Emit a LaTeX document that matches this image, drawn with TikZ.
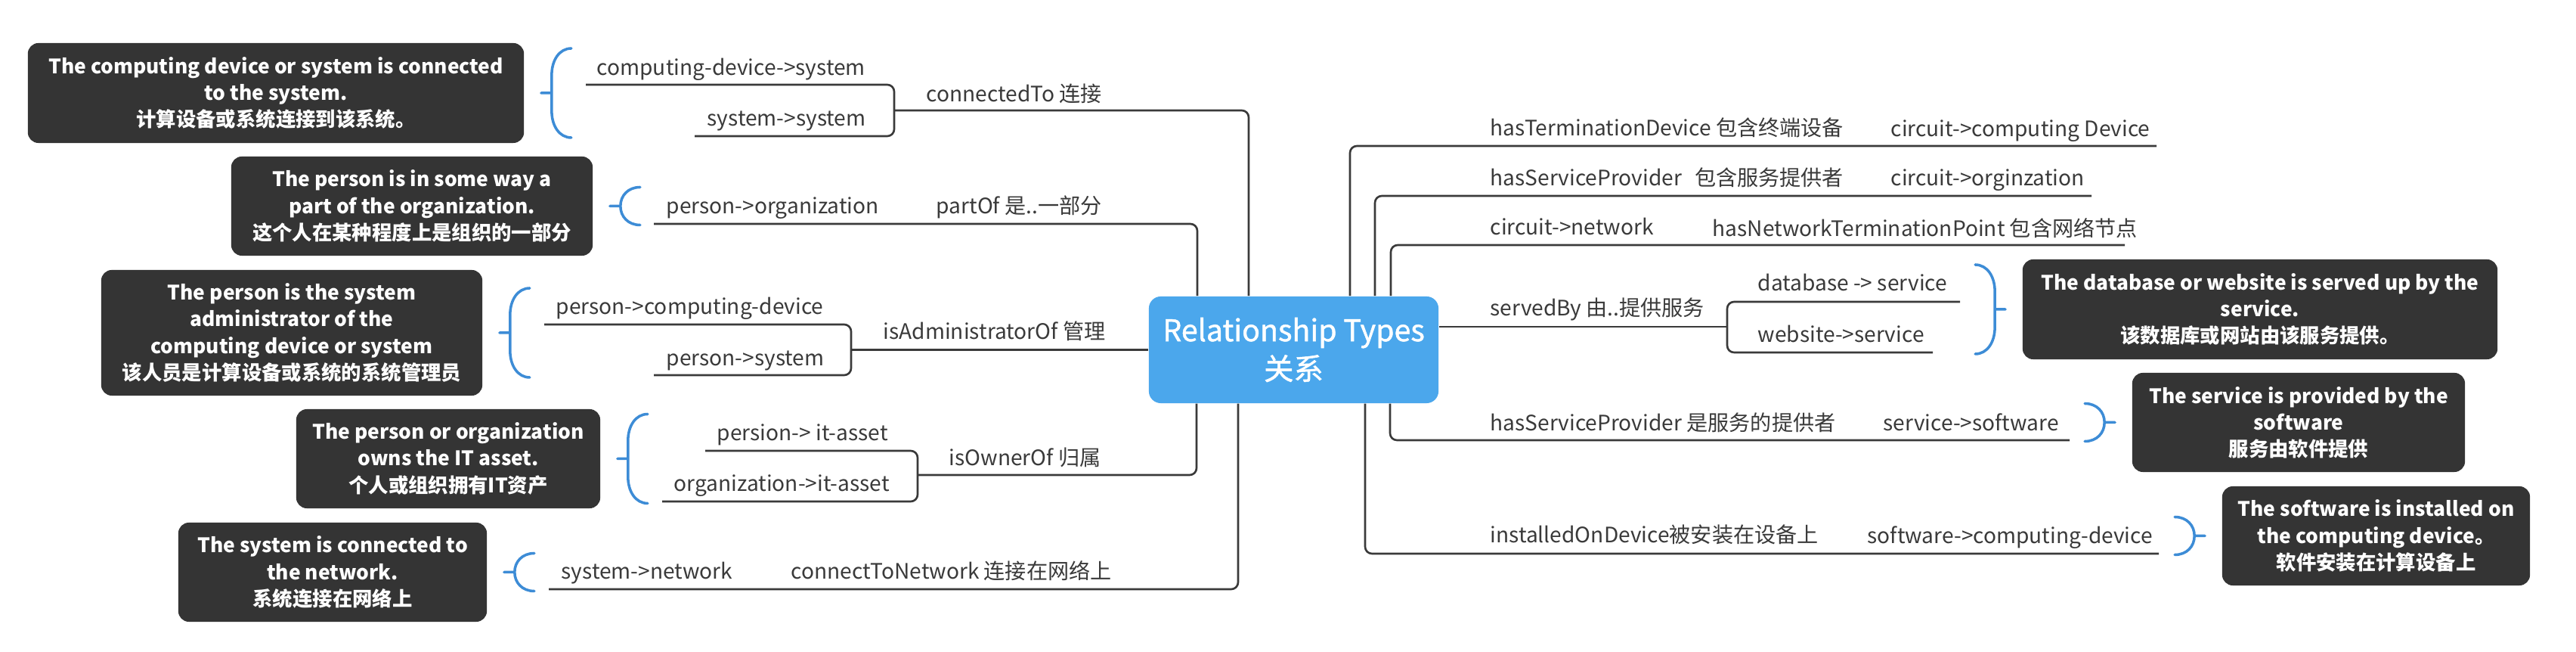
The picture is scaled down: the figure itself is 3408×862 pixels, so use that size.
\documentclass[tikz,border=0pt]{standalone}
\usepackage{fontspec}
\setmainfont{Noto Sans CJK SC}
\newfontfamily\titlefont{Noto Sans CJK SC}[FakeBold=1.2]
\usepackage{tikz}
\usetikzlibrary{calc}
\definecolor{linkc}{HTML}{3A3A3A}
\definecolor{rootc}{HTML}{4BA7EC}
\definecolor{notec}{HTML}{343434}
\definecolor{bracec}{HTML}{3D8CD6}
\tikzset{%
    link/.style={draw=linkc, line width=0.75pt, rounded corners=2.6pt},
    rel/.style={anchor=west, inner sep=0pt, text height=0.85em, text depth=0.15em,
        text=linkc, font=\fontsize{8}{10}\selectfont},
    note/.style={fill=notec, text=white, rounded corners=4pt, align=center,
        inner sep=0pt, font=\fontsize{7.5}{10}\selectfont\bfseries},
    brace/.style={draw=bracec, line width=1pt, line cap=round}
}

\begin{document}
\begin{tikzpicture}[x=0.01cm, y=-0.01cm]
    \fill[white] (0,0) rectangle (3408,862);
    \useasboundingbox (0,0) rectangle (3408,862);

    \node[fill=rootc, rounded corners=4.5pt, text=white, align=center, minimum width=3.83cm,
        minimum height=1.41cm, font=\titlefont\fontsize{11.2}{14.5}\selectfont] (root) at (1711.5,462.5)
        {Relationship Types\\关系};

    % notes
    \node[note, minimum width=6.56cm, minimum height=1.32cm] (dconn) at (365,123)
        {The computing device or system is connected\\to the system.\\计算设备或系统连接到该系统。};
    \node[note, minimum width=4.78cm, minimum height=1.31cm] (dpart) at (545,272.5)
        {The person is in some way a\\part of the organization.\\这个人在某种程度上是组织的一部分};
    \node[note, minimum width=5.04cm, minimum height=1.66cm] (dadmin) at (386,440)
        {The person is the system\\administrator of the\\computing device or system\\该人员是计算设备或系统的系统管理员};
    \node[note, minimum width=4.02cm, minimum height=1.31cm] (downer) at (593,606.5)
        {The person or organization\\owns the IT asset.\\个人或组织拥有IT资产};
    \node[note, minimum width=4.08cm, minimum height=1.31cm] (dnet) at (440,756.5)
        {The system is connected to\\the network.\\系统连接在网络上};
    \node[note, minimum width=6.28cm, minimum height=1.32cm] (dserved) at (2990,409)
        {The database or website is served up by the\\service.\\该数据库或网站由该服务提供。};
    \node[note, minimum width=4.40cm, minimum height=1.31cm] (dprov) at (3041,558.5)
        {The service is provided by the\\software\\服务由软件提供};
    \node[note, minimum width=4.07cm, minimum height=1.31cm] (dinst) at (3143.5,708.5)
        {The software is installed on\\the computing device。\\软件安装在计算设备上};

    % left labels
    \node[rel] (cdsys) at (789,87) {computing-device->system};
    \node[rel] (syssys) at (935,154) {system->system};
    \node[rel] (conn) at (1225,122) {connectedTo 连接};
    \node[rel] (porg) at (881,270) {person->organization};
    \node[rel] (part) at (1238,270) {partOf 是..一部分};
    \node[rel] (pcd) at (735,403) {person->computing-device};
    \node[rel] (psys) at (881,471) {person->system};
    \node[rel] (admin) at (1168,436) {isAdministratorOf 管理};
    \node[rel] (pit) at (948,570) {persion-> it-asset};
    \node[rel] (oit) at (891,637) {organization->it-asset};
    \node[rel] (owner) at (1255,603) {isOwnerOf 归属};
    \node[rel] (snet) at (742,753) {system->network};
    \node[rel] (ctn) at (1046,753) {connectToNetwork 连接在网络上};

    % right labels
    \node[rel] (term) at (1971,167) {hasTerminationDevice 包含终端设备};
    \node[rel] (ccd) at (2501,168) {circuit->computing Device};
    \node[rel] (prov) at (1971,233) {hasServiceProvider\hspace{0.6em}包含服务提供者};
    \node[rel] (corg) at (2501,233) {circuit->orginzation};
    \node[rel] (cnet) at (1971,298) {circuit->network};
    \node[rel] (ntp) at (2265,300) {hasNetworkTerminationPoint 包含网络节点};
    \node[rel] (served) at (1971,405) {servedBy 由..提供服务};
    \node[rel] (db) at (2325,372) {database -> service};
    \node[rel] (web) at (2325,440) {website->service};
    \node[rel] (sprov) at (1971,557) {hasServiceProvider 是服务的提供者};
    \node[rel] (ssw) at (2491,557) {service->software};
    \node[rel] (inst) at (1971,705) {installedOnDevice被安装在设备上};
    \node[rel] (swcd) at (2470,706) {software->computing-device};

    % elbows, junctions and line ends
    \coordinate (c1e) at (1652,146);
    \coordinate (c1j) at (1183,146);
    \coordinate (c1a) at (775,112);
    \coordinate (c1b) at (919,180);
    \coordinate (c2e) at (1584,296);
    \coordinate (c2a) at (865,296);
    \coordinate (c3j) at (1126,462.5);
    \coordinate (c3a) at (720,429);
    \coordinate (c3b) at (865,496);
    \coordinate (c4e) at (1583,628);
    \coordinate (c4j) at (1214,628);
    \coordinate (c4a) at (933,596);
    \coordinate (c4b) at (876,663);
    \coordinate (c5e) at (1638,779);
    \coordinate (c5a) at (726,779);
    \coordinate (r1e) at (1786,193);
    \coordinate (r1a) at (2853,193);
    \coordinate (r2e) at (1819,259);
    \coordinate (r2a) at (2767,259);
    \coordinate (r3e) at (1840,324);
    \coordinate (r3a) at (2811,324);
    \coordinate (r4j) at (2285,432);
    \coordinate (r4a) at (2593,399);
    \coordinate (r4b) at (2557,466);
    \coordinate (r5e) at (1839,582);
    \coordinate (r5a) at (2738,582);
    \coordinate (r6e) at (1806,732);
    \coordinate (r6a) at (2856,732);

    \draw[link] (root.north -| c1e) |- (c1j);
    \draw[link] (c1a) -| (c1j) |- (c1b);
    \draw[link] (root.north -| c2e) |- (c2a);
    \draw[link] (root.west) -- (c3j);
    \draw[link] (c3a) -| (c3j) |- (c3b);
    \draw[link] (root.south -| c4e) |- (c4j);
    \draw[link] (c4a) -| (c4j) |- (c4b);
    \draw[link] (root.south -| c5e) |- (c5a);
    \draw[link] (root.north -| r1e) |- (r1a);
    \draw[link] (root.north -| r2e) |- (r2a);
    \draw[link] (root.north -| r3e) |- (r3a);
    \draw[link] (root.east |- r4j) -- (r4j);
    \draw[link] (r4a) -| (r4j) |- (r4b);
    \draw[link] (root.south -| r5e) |- (r5a);
    \draw[link] (root.south -| r6e) |- (r6a);

    % brackets beside the notes
    \foreach \b/\a/\s/\h/\c in {dconn/east/1/59/35, dpart/east/1/25/25, dadmin/east/1/59/35,
        downer/east/1/59/35, dnet/east/1/25/25, dserved/west/-1/59/35,
        dprov/west/-1/25/25, dinst/west/-1/25/25}
    {
    \draw[brace, shift={($(\b.\a)+({\s*22},0)$)}, xscale=\s]
        (0,0) -- (14,0)
        (40,-\h) .. controls (24,-\h) and (14,{-\h+0.45*\c}) .. (14,{-\h+\c})
        -- (14,{\h-\c}) .. controls (14,{\h-0.45*\c}) and (24,\h) .. (40,\h);
    }
\end{tikzpicture}
\end{document}
